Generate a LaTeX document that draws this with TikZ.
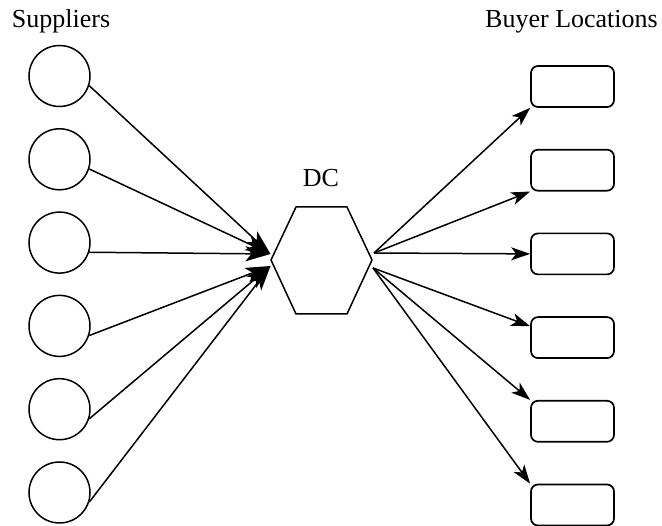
\documentclass[tikz,border=0pt]{standalone}
\usepackage{fontspec}
\setmainfont{Liberation Serif}
\usetikzlibrary{arrows.meta,positioning}

\begin{document}
\begin{tikzpicture}[
  x=1pt, y=1pt,
  font=\fontsize{26}{30}\selectfont,
  supplier/.style={draw, circle, line width=1.5pt, minimum size=61pt, inner sep=0pt},
  buyer/.style={draw, rounded corners=7pt, line width=1.7pt, minimum width=83pt, minimum height=41pt, inner sep=0pt},
  inarr/.style={-{Stealth[length=25pt, width=15pt, inset=6pt]}, line width=1.5pt},
  outarr/.style={-{Stealth[length=19pt, width=13pt, inset=5pt]}, line width=1.5pt}
]
\useasboundingbox (0,0) rectangle (662,526);
% suppliers
\node[anchor=base] (suplabel) at (61,498) {Suppliers};
\node[supplier] (sup1) at (59.5,450) {};
\node[supplier, below=20.8pt of sup1] (sup2) {};
\node[supplier, below=20.8pt of sup2] (sup3) {};
\node[supplier, below=20.8pt of sup3] (sup4) {};
\node[supplier, below=20.8pt of sup4] (sup5) {};
\node[supplier, below=20.8pt of sup5] (sup6) {};
% buyer locations
\node[anchor=base] (buylabel) at (571.5,498) {Buyer Locations};
\node[buyer] (loc1) at (572.5,439.5) {};
\node[buyer, below=41pt of loc1] (loc2) {};
\node[buyer, below=41pt of loc2] (loc3) {};
\node[buyer, below=41pt of loc3] (loc4) {};
\node[buyer, below=41pt of loc4] (loc5) {};
\node[buyer, below=41pt of loc5] (loc6) {};
% DC hexagon
\coordinate (dc) at (321.5,266);
\node[anchor=base] (dclabel) at (321,339) {DC};
\draw[line width=1.5pt] (dc) ++(-50.5,0) -- ++(25,53) -- ++(51,0) -- ++(25,-53) -- ++(-25,-54) -- ++(-51,0) -- cycle;
\coordinate (dcin1) at (270.5,272);
\coordinate (dcin2) at (270.5,260);
\coordinate (dcout1) at (374,273);
\coordinate (dcout2) at (373,258);
% inbound
\draw[inarr] (sup1.-18) -- (dcin1);
\draw[inarr] (sup2.-18) -- (dcin1);
\draw[inarr] (sup3.-18) -- (dcin1);
\draw[inarr] (sup4.-18) -- (dcin2);
\draw[inarr] (sup5.-18) -- (dcin2);
\draw[inarr] (sup6.-18) -- (dcin2);
% outbound
\draw[outarr] (dcout1) -- (loc1.south west);
\draw[outarr] (dcout1) -- (loc2.south west);
\draw[outarr] (dcout1) -- (loc3.west);
\draw[outarr] (dcout2) -- (loc4.165);
\draw[outarr] (dcout2) -- (loc5.north west);
\draw[outarr] (dcout2) -- (loc6.north west);
\end{tikzpicture}
\end{document}
